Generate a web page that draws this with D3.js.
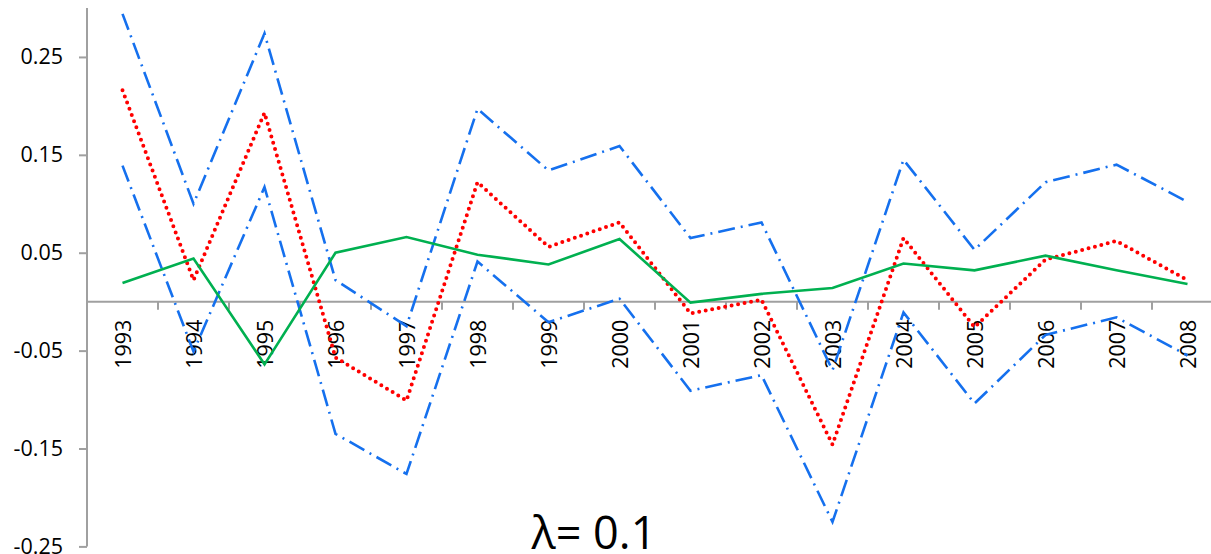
<!DOCTYPE html>
<html>
<head>
<meta charset="utf-8">
<script src="https://cdn.jsdelivr.net/npm/d3@7.9.0/dist/d3.min.js"></script>
<style>
  html, body { margin: 0; padding: 0; background: #fff; }
  svg { display: block; }
  text { font-family: "Open Sans", "Liberation Sans", sans-serif; fill: #000; }
</style>
</head>
<body>
<div id="viz"></div>
<script>
// Data
const years = ["1993","1994","1995","1996","1997","1998","1999","2000",
               "2001","2002","2003","2004","2005","2006","2007","2008"];

const estimate = [0.019, 0.044, -0.064, 0.050, 0.066, 0.048, 0.038, 0.064,
                  -0.001, 0.008, 0.014, 0.039, 0.032, 0.047, 0.032, 0.018];

const meanPath = [0.216, 0.022, 0.193, -0.057, -0.101, 0.122, 0.056, 0.081,
                  -0.012, 0.002, -0.146, 0.065, -0.026, 0.043, 0.062, 0.022];

const upperBand = [0.294, 0.100, 0.274, 0.022, -0.025, 0.197, 0.134, 0.159,
                   0.065, 0.081, -0.070, 0.145, 0.053, 0.122, 0.140, 0.102];

const lowerBand = [0.139, -0.051, 0.117, -0.135, -0.176, 0.041, -0.021, 0.003,
                   -0.091, -0.075, -0.225, -0.011, -0.104, -0.034, -0.016, -0.055];

const yTicks = [0.25, 0.15, 0.05, -0.05, -0.15, -0.25];
const title = "λ= 0.1";

const width = 1211, height = 554;

const svg = d3.select("#viz")
  .append("svg")
  .attr("width", width)
  .attr("height", height);

// Scales
const x = d3.scaleBand()
  .domain(years)
  .range([87, 87 + 71 * years.length])
  .padding(0);

const y = d3.scaleLinear()
  .domain([-0.25, 0.30])
  .range([546.4, 8]);

const axisColor = "#a0a0a0";

// Y axis
const yAxis = svg.append("g")
  .attr("transform", "translate(87,0)")
  .call(d3.axisLeft(y).tickValues(yTicks).tickSize(8).tickPadding(16)
    .tickFormat(d => d3.format(".2f")(d).replace("−", "-")));
yAxis.select(".domain").attr("stroke", axisColor).attr("stroke-width", 2)
  .attr("d", `M0,${y(0.30)}V${y(-0.25)}`);
yAxis.selectAll(".tick line").attr("stroke", axisColor).attr("stroke-width", 2);
yAxis.selectAll(".tick text")
  .style("font-size", "21.5px")
  .style("font-family", '"Open Sans", "Liberation Sans", sans-serif')
  .attr("fill", "#000");

// X axis at zero, ticks between categories
const xg = svg.append("g").attr("transform", `translate(0,${y(0)})`);
xg.append("line")
  .attr("x1", 87).attr("x2", width)
  .attr("stroke", axisColor).attr("stroke-width", 2);
xg.selectAll(".xtick")
  .data(years.slice(1))
  .join("line")
  .attr("class", "xtick")
  .attr("x1", d => x(d)).attr("x2", d => x(d))
  .attr("y1", 0).attr("y2", 8)
  .attr("stroke", axisColor).attr("stroke-width", 2);
xg.selectAll(".xlabel")
  .data(years)
  .join("text")
  .attr("class", "xlabel")
  .attr("transform", d => `translate(${x(d) + x.bandwidth() / 2 + 8},18) rotate(-90)`)
  .attr("text-anchor", "end")
  .style("font-size", "21.5px")
  .text(d => d);

// Lines
const line = d3.line()
  .x((d, i) => x(years[i]) + x.bandwidth() / 2)
  .y(d => y(d));

const blue = "#1570ee";

[upperBand, lowerBand].forEach(series => {
  svg.append("path")
    .datum(series)
    .attr("fill", "none")
    .attr("stroke", blue)
    .attr("stroke-width", 2.6)
    .attr("stroke-dasharray", "17,6,2,6")
    .attr("d", line);
});

svg.append("path")
  .datum(meanPath)
  .attr("fill", "none")
  .attr("stroke", "#ff0000")
  .attr("stroke-width", 4)
  .attr("stroke-linecap", "round")
  .attr("stroke-dasharray", "0,6.6")
  .attr("d", line);

svg.append("path")
  .datum(estimate)
  .attr("fill", "none")
  .attr("stroke", "#00b050")
  .attr("stroke-width", 2.6)
  .attr("d", line);

// Title
svg.append("text")
  .attr("x", 594)
  .attr("y", 549)
  .attr("text-anchor", "middle")
  .style("font-size", "45px")
  .text(title);
</script>
</body>
</html>
